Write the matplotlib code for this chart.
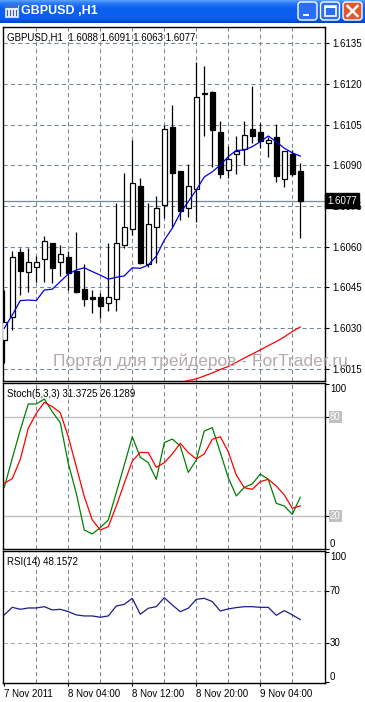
import matplotlib
matplotlib.use('Agg')
import matplotlib.pyplot as plt
import numpy as np
from matplotlib.patches import FancyBboxPatch, Rectangle
from matplotlib.colors import LinearSegmentedColormap

plt.rcParams['font.family'] = ['Liberation Sans', 'DejaVu Sans']

# ---------------- data ----------------
opens = [1.60256, 1.60342, 1.60581, 1.60505, 1.60524, 1.60553, 1.60612, 1.60542, 1.60563, 1.60510,
         1.60443, 1.60413, 1.60413, 1.60393, 1.60406, 1.60605, 1.60664, 1.60824, 1.60536, 1.60671,
         1.60752, 1.61040, 1.60880, 1.60743, 1.60811, 1.61163, 1.61172, 1.61024, 1.60883, 1.60942,
         1.60961, 1.61033, 1.61022, 1.60981, 1.61003, 1.60851, 1.60942, 1.60880]
highs = [1.60440, 1.60585, 1.60594, 1.60594, 1.60565, 1.60639, 1.60615, 1.60606, 1.60585, 1.60653,
         1.60536, 1.60440, 1.60428, 1.60615, 1.60762, 1.60870, 1.60993, 1.60852, 1.60762, 1.60787,
         1.61049, 1.61122, 1.60880, 1.60905, 1.61282, 1.61266, 1.61175, 1.61065, 1.60971, 1.61008,
         1.61065, 1.61193, 1.61055, 1.61005, 1.61052, 1.60953, 1.60956, 1.60910]
lows = [1.60171, 1.60292, 1.60422, 1.60434, 1.60471, 1.60471, 1.60465, 1.60492, 1.60440, 1.60430,
        1.60381, 1.60354, 1.60336, 1.60364, 1.60364, 1.60594, 1.60643, 1.60536, 1.60524, 1.60540,
        1.60705, 1.60668, 1.60698, 1.60710, 1.60692, 1.61008, 1.60895, 1.60852, 1.60852, 1.60868,
        1.60901, 1.60981, 1.60963, 1.60932, 1.60840, 1.60821, 1.60861, 1.60630]
closes = [1.60323, 1.60563, 1.60511, 1.60542, 1.60542, 1.60622, 1.60522, 1.60572, 1.60504, 1.60434,
          1.60406, 1.60406, 1.60381, 1.60413, 1.60612, 1.60671, 1.60834, 1.60541, 1.60683, 1.60741,
          1.61034, 1.60870, 1.60733, 1.60824, 1.61151, 1.61167, 1.61030, 1.60868, 1.60922, 1.60953,
          1.61011, 1.61008, 1.60990, 1.60993, 1.60861, 1.60953, 1.60869, 1.60770]

ma_blue = [1.60299, 1.60348, 1.60401, 1.60403, 1.60401, 1.60440, 1.60443, 1.60471, 1.60499, 1.60514,
           1.60522, 1.60508, 1.60495, 1.60480, 1.60487, 1.60492, 1.60522, 1.60520, 1.60532, 1.60565,
           1.60624, 1.60668, 1.60724, 1.60766, 1.60809, 1.60857, 1.60876, 1.60901, 1.60932, 1.60955,
           1.60956, 1.60969, 1.60987, 1.61008, 1.60987, 1.60963, 1.60946, 1.60934]
ma_red = [np.nan] * 22 + [1.60099, 1.60106, 1.60112, 1.60123, 1.60134, 1.60147, 1.60158, 1.60173,
                          1.60189, 1.60204, 1.60219, 1.60235, 1.60250, 1.60267, 1.60287, 1.60304]

stoch_main = [37.4, 55.1, 72.3, 88.1, 88.1, 91.1, 83.4, 76.7, 52.0, 33.8,
              11.5, 9.1, 12.9, 17.6, 34.2, 51.0, 68.2, 55.7, 52.4, 42.3,
              64.6, 66.8, 62.6, 46.5, 54.0, 71.7, 73.7, 58.7, 43.3, 32.2,
              37.4, 39.5, 45.5, 42.3, 27.7, 26.1, 21.0, 31.37]
stoch_signal = [39.9, 42.7, 54.4, 73.3, 82.4, 89.1, 86.5, 82.8, 68.2, 50.0,
                31.8, 17.6, 11.5, 13.5, 26.1, 39.9, 53.4, 58.7, 58.5, 49.6,
                52.4, 57.7, 64.2, 58.5, 54.7, 57.7, 66.6, 68.2, 59.1, 44.9,
                37.2, 36.2, 40.9, 42.3, 38.2, 32.8, 24.7, 26.13]
rsi = [51.7, 57.5, 56.0, 57.0, 57.0, 58.0, 55.5, 56.0, 54.2, 51.7,
       50.9, 50.9, 49.9, 50.9, 58.5, 59.8, 64.4, 52.2, 56.8, 58.0,
       64.9, 59.3, 54.2, 56.8, 63.6, 64.4, 61.9, 54.7, 56.3, 57.3,
       58.0, 58.0, 57.5, 57.5, 51.4, 55.0, 51.7, 48.16]

price_ticks = [1.6015, 1.6030, 1.6045, 1.6060, 1.6075, 1.6090, 1.6105, 1.6120, 1.6135]
time_label_bars = [0, 8, 16, 24, 32]
time_labels = ['7 Nov 2011', '8 Nov 04:00', '8 Nov 12:00', '8 Nov 20:00', '9 Nov 04:00']
grid_bars = [4, 8, 12, 16, 20, 24, 28, 32, 36]
last_price = 1.6077
title_ohlc = '1.6088 1.6091 1.6063 1.6077'

# ---------------- layout ----------------
W, H = 365, 702
fig = plt.figure(figsize=(W / 100, H / 100), dpi=100)
fig.patch.set_facecolor('white')


def px_axes(x0, y0, x1, y1):
    return fig.add_axes([x0 / W, 1 - y1 / H, (x1 - x0) / W, (y1 - y0) / H])


GRID = '#778899'
FS = 7
XLIM = (-0.16, 40.09)
idx = np.arange(len(opens))

# ---------- title bar ----------
tb = px_axes(0, 0, W, 23)
cmap = LinearSegmentedColormap.from_list('xp', [(0, '#5aa2ff'), (0.12, '#2e7cf8'), (0.35, '#0a5fee'),
                                                (0.8, '#0a60f0'), (0.92, '#0050e0'), (1, '#0040c0')])
tb.imshow(np.linspace(0, 1, 50).reshape(-1, 1), aspect='auto', cmap=cmap, extent=(0, W, 23, 0))
tb.set_xlim(0, W)
tb.set_ylim(23, 0)
tb.axis('off')
# icon
tb.add_patch(Rectangle((5, 5), 13, 12, facecolor='#e8f0ff', edgecolor='#c0d0e8', lw=0.8))
tb.add_patch(Rectangle((5, 5), 13, 3, facecolor='#3a6fd0', edgecolor='none'))
for k in range(4):
    tb.plot([7 + 3 * k, 7 + 3 * k], [10, 15], color='#4060a0', lw=0.8)
tb.text(21, 11.5, 'GBPUSD ,H1', color='white', fontsize=9, fontweight='bold', va='center', ha='left')
# buttons
for bx, face in [(298, '#2a6ef5'), (320.5, '#2a6ef5'), (343, '#e2562c')]:
    tb.add_patch(FancyBboxPatch((bx, 2), 19, 18, boxstyle='round,pad=0,rounding_size=3',
                                facecolor=face, edgecolor='white', lw=1.0))
tb.add_patch(Rectangle((302.5, 14), 6, 2.2, facecolor='white', edgecolor='none'))
tb.add_patch(Rectangle((324.5, 6), 11, 10, facecolor='none', edgecolor='white', lw=1.2))
tb.add_patch(Rectangle((324.5, 6), 11, 2, facecolor='white', edgecolor='none'))
tb.plot([347.5, 357.5], [6, 16], color='white', lw=1.8)
tb.plot([347.5, 357.5], [16, 6], color='white', lw=1.8)

# ---------- main pane ----------
ax = px_axes(3, 27, 325, 381)
ax.set_xlim(*XLIM)
ax.set_ylim(1.601044, 1.614101)
for g in grid_bars:
    ax.axvline(g, color=GRID, lw=0.75, ls=(0, (4, 3)), zorder=1)
for p in price_ticks:
    ax.axhline(p, color=GRID, lw=0.75, ls=(0, (4, 3)), zorder=1)
ax.axhline(last_price, color=GRID, lw=0.9, zorder=1.5)

o = np.array(opens); c = np.array(closes)
bull = c >= o
ax.vlines(idx, lows, highs, color='black', lw=0.9, zorder=2)
bottoms = np.minimum(o, c)
heights = np.maximum(np.abs(c - o), 0.00002)
ax.bar(idx, heights, bottom=bottoms, width=0.62,
       color=np.where(bull, 'white', 'black'), edgecolor='black', lw=0.9, zorder=3)
ax.plot(idx, ma_blue, color='#0000e0', lw=0.9, zorder=4)
ax.plot(idx, ma_red, color='#ff0000', lw=0.9, zorder=4)

ax.yaxis.tick_right()
ax.set_yticks(price_ticks)
ax.set_yticklabels([f'{p:.4f}' for p in price_ticks])
ax.tick_params(axis='y', length=3, width=0.8, pad=2, labelsize=FS, colors='black')
ax.set_xticks([])
for s in ax.spines.values():
    s.set_color('black'); s.set_linewidth(1.0)
ax.text(0.012, 0.985, 'GBPUSD,H1  ' + title_ohlc, transform=ax.transAxes, fontsize=FS,
        va='top', ha='left', zorder=6)
ax.text(1.006, last_price, f'{last_price:.4f}', transform=ax.get_yaxis_transform(), color='white',
        fontsize=FS, va='center', ha='left', zorder=10, clip_on=False,
        bbox=dict(facecolor='black', edgecolor='black', pad=1.6))
fig.text(200 / W, 1 - 361 / H, 'Портал для трейдеров - ForTrader.ru', color='#b5aaaa',
         fontsize=12.5, ha='center', va='center', zorder=5)

# ---------- stochastic pane ----------
ax2 = px_axes(3, 383, 325, 549)
ax2.set_xlim(*XLIM)
ax2.set_ylim(-0.06, 100.85)
for g in grid_bars:
    ax2.axvline(g, color=GRID, lw=0.75, ls=(0, (4, 3)), zorder=1)
for lv in (80, 20):
    ax2.axhline(lv, color='#c0c0c0', lw=1.0, zorder=1)
ax2.plot(idx, stoch_main, color='#008000', lw=0.9, zorder=3)
ax2.plot(idx, stoch_signal, color='#ff0000', lw=0.9, zorder=3)
ax2.yaxis.tick_right()
ax2.set_yticks([0, 20, 80, 100])
ax2.set_yticklabels(['', '', '', ''])
ax2.tick_params(axis='y', length=3, width=0.8, pad=2)
ax2.set_xticks([])
yt2 = ax2.get_yaxis_transform()
ax2.text(1.015, 100, '100', transform=yt2, fontsize=FS, va='top', ha='left', clip_on=False)
ax2.text(1.015, 0, '0', transform=yt2, fontsize=FS, va='bottom', ha='left', clip_on=False)
for lv in (80, 20):
    ax2.text(1.015, lv, str(lv), transform=yt2, fontsize=FS, va='center', ha='left', color='white',
             clip_on=False, bbox=dict(facecolor='#c0c0c0', edgecolor='none', pad=0.8))
ax2.text(0.012, 0.965, 'Stoch(5,3,3) 31.3725 26.1289', transform=ax2.transAxes, fontsize=FS,
         va='top', ha='left')
for s in ax2.spines.values():
    s.set_color('black'); s.set_linewidth(1.0)

# ---------- RSI pane ----------
ax3 = px_axes(3, 551, 325, 683)
ax3.set_xlim(*XLIM)
ax3.set_ylim(-0.4, 100.6)
for g in grid_bars:
    ax3.axvline(g, color=GRID, lw=0.75, ls=(0, (4, 3)), zorder=1)
for lv in (70, 30):
    ax3.axhline(lv, color='#a8a8a8', lw=0.75, ls=(0, (4, 3)), zorder=1)
ax3.plot(idx, rsi, color='#1c1c88', lw=0.9, zorder=3)
ax3.yaxis.tick_right()
ax3.set_yticks([0, 30, 70, 100])
ax3.set_yticklabels(['', '', '', ''])
ax3.tick_params(axis='y', length=3, width=0.8, pad=2)
yt3 = ax3.get_yaxis_transform()
ax3.text(1.015, 100, '100', transform=yt3, fontsize=FS, va='top', ha='left', clip_on=False)
ax3.text(1.015, 0, '0', transform=yt3, fontsize=FS, va='bottom', ha='left', clip_on=False)
for lv in (70, 30):
    ax3.text(1.015, lv, str(lv), transform=yt3, fontsize=FS, va='center', ha='left', clip_on=False)
ax3.text(0.012, 0.955, 'RSI(14) 48.1572', transform=ax3.transAxes, fontsize=FS, va='top', ha='left')
ax3.set_xticks(time_label_bars)
ax3.set_xticklabels(time_labels, ha='left')
ax3.tick_params(axis='x', length=2, width=0.8, pad=2, labelsize=FS)
for lab in ax3.get_xticklabels():
    lab.set_x(lab.get_position()[0])
for s in ax3.spines.values():
    s.set_color('black'); s.set_linewidth(1.0)

fig.savefig('out.png', dpi=100, facecolor='white')
